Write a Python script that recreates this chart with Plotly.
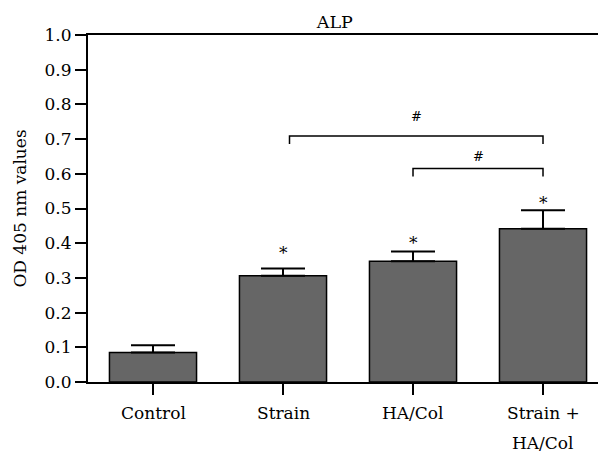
import plotly.graph_objects as go

# ---- data ----
categories = ["Control", "Strain", "HA/Col", "Strain + HA/Col"]
label_lines = [["Control"], ["Strain"], ["HA/Col"], ["Strain +", "HA/Col"]]
means = [0.085, 0.306, 0.348, 0.442]
errors = [0.021, 0.021, 0.028, 0.053]
star_y = [None, 0.383, 0.411, 0.527]
# significance brackets: left index, right index, top value, foot value, label value
bracket_left = [1.05, 2.0]
bracket_right = [3.0, 3.0]
bracket_top = [0.709, 0.615]
bracket_foot = [0.686, 0.592]
bracket_label_y = [0.764, 0.649]
bracket_label = ["#", "#"]
y_ticks = [0.0, 0.1, 0.2, 0.3, 0.4, 0.5, 0.6, 0.7, 0.8, 0.9, 1.0]

FONT = "DejaVu Serif"
FS = 17
x_idx = list(range(len(categories)))

fig = go.Figure()
fig.add_trace(go.Bar(
    x=x_idx, y=means, width=0.67,
    marker=dict(color="#666666", line=dict(color="black", width=1.5)),
    error_y=dict(type="data", array=errors, arrayminus=[0] * len(errors),
                 symmetric=False, width=22, thickness=2, color="black"),
    showlegend=False, hoverinfo="skip",
))

annotations = []
# category labels
for i, lines in enumerate(label_lines):
    for j, line in enumerate(lines):
        annotations.append(dict(x=i, y=0, xref="x", yref="paper", text=line,
                                showarrow=False, yanchor="middle", xanchor="center",
                                yshift=-31 - 30 * j,
                                font=dict(family=FONT, size=FS, color="black")))
# stars
for i, sy in enumerate(star_y):
    if sy is None:
        continue
    annotations.append(dict(x=i, y=sy, xref="x", yref="y", text="*", showarrow=False,
                            yanchor="middle", yshift=-4,
                            font=dict(family=FONT, size=FS, color="black")))
# brackets
shapes = []
for l, r, t, f, ly, lab in zip(bracket_left, bracket_right, bracket_top, bracket_foot,
                               bracket_label_y, bracket_label):
    shapes.append(dict(type="path", xref="x", yref="y",
                       path=f"M {l},{f} L {l},{t} L {r},{t} L {r},{f}",
                       line=dict(color="black", width=1.5)))
    annotations.append(dict(x=(l + r) / 2, y=ly, xref="x", yref="y", text=lab,
                            showarrow=False, yanchor="middle",
                            font=dict(family=FONT, size=13, color="black")))

fig.update_layout(
    width=598, height=454,
    margin=dict(l=88, r=0, t=35, b=72),
    paper_bgcolor="white", plot_bgcolor="white",
    font=dict(family=FONT, size=FS, color="black"),
    title=dict(text="ALP", x=0.484, xref="paper", xanchor="center",
               y=1 - 22 / 454, yref="container", yanchor="middle",
               font=dict(family=FONT, size=17.5, color="black")),
    annotations=annotations,
    shapes=shapes,
)
fig.update_xaxes(
    range=[-0.5, 3.423], tickvals=x_idx, showticklabels=False,
    ticks="outside", ticklen=11, tickwidth=2, tickcolor="black",
    showline=True, linewidth=2, linecolor="black", mirror=True,
    showgrid=False, zeroline=False,
)
fig.update_yaxes(
    range=[0, 1.0], tickvals=y_ticks, tickformat=".1f",
    ticks="outside", ticklen=11, tickwidth=2, tickcolor="black",
    showline=True, linewidth=2, linecolor="black", mirror=False,
    showgrid=False, zeroline=False,
    title=dict(text="OD 405 nm values", standoff=14,
               font=dict(family=FONT, size=FS, color="black")),
)

fig.write_html("out.html", config={"displayModeBar": False},
               post_script="document.body.style.margin='0';")
